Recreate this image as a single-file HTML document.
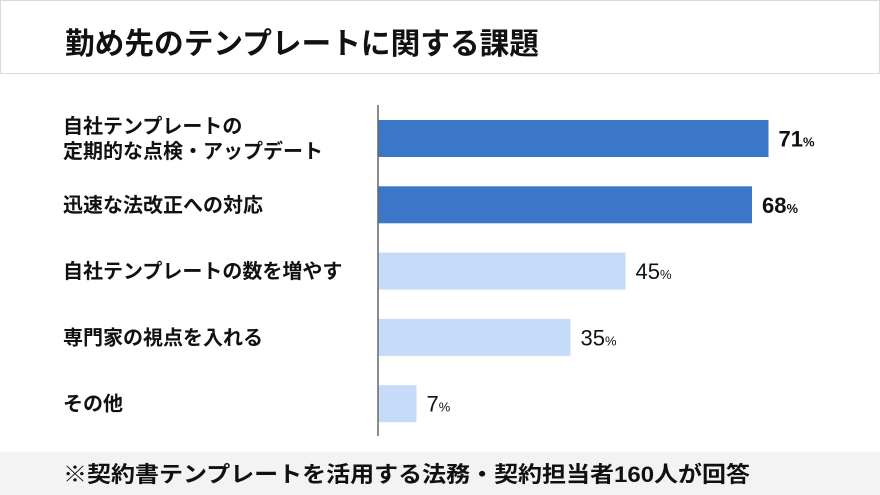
<!DOCTYPE html>
<html><head><meta charset="utf-8">
<style>
body{margin:0;width:880px;height:495px;overflow:hidden;background:#fff;font-family:"Liberation Sans","Noto Sans CJK JP",sans-serif;}
svg{display:block}
</style></head>
<body>
<svg id="chart" width="880" height="495">
<rect x="0.5" y="0.5" width="879" height="73" fill="#fff" stroke="#d9d9d9"/>
<text x="65" y="54" font-size="30" font-weight="bold" fill="#111" textLength="474" lengthAdjust="spacingAndGlyphs">勤め先のテンプレートに関する課題</text>
<rect x="0" y="452" width="880" height="43" fill="#f3f3f3"/>
<text x="63" y="482" font-size="22" fill="#111" font-weight="bold" textLength="687" lengthAdjust="spacingAndGlyphs">※契約書テンプレートを活用する法務・契約担当者160人が回答</text>
<g id="bars"></g>
<line x1="378" y1="105" x2="378" y2="436" stroke="#666" stroke-width="1.5"/>
</svg>
<script>
const categories=[["自社テンプレートの","定期的な点検・アップデート"],["迅速な法改正への対応"],["自社テンプレートの数を増やす"],["専門家の視点を入れる"],["その他"]];
const values=[71,68,45,35,7];
const highlight=[true,true,false,false,false];
const x0=378,k=5.5;
function xs(v){return x0+v*k;}
function yc(i){return 138.5+i*66.3;}
const NS="http://www.w3.org/2000/svg";
const g=document.getElementById("bars");
function mk(t,a){const e=document.createElementNS(NS,t);for(const p in a)e.setAttribute(p,a[p]);g.appendChild(e);return e;}
values.forEach((v,i)=>{
 const c=yc(i);
 const r=mk("rect",{x:x0,y:c-18.5,width:xs(v)-x0,height:37,fill:highlight[i]?"#3b77c6":"#c5dbf7"});
 
 
 const lines=categories[i];
 lines.forEach((ln,j)=>{
  const t=mk("text",{x:63,y:c+7+(j-(lines.length-1)/2)*25,"font-size":"20","font-weight":"bold",fill:"#111"});
  t.textContent=ln;
  
  
 });
 const vt=mk("text",{x:xs(v)+10,y:c+8,"font-size":"22",fill:"#111","font-weight":highlight[i]?"bold":"normal"});
 
 
 vt.appendChild(document.createTextNode(v));
 const ts=document.createElementNS(NS,"tspan");ts.setAttribute("font-size","13");ts.textContent="%";vt.appendChild(ts);
});
</script>
</body></html>
